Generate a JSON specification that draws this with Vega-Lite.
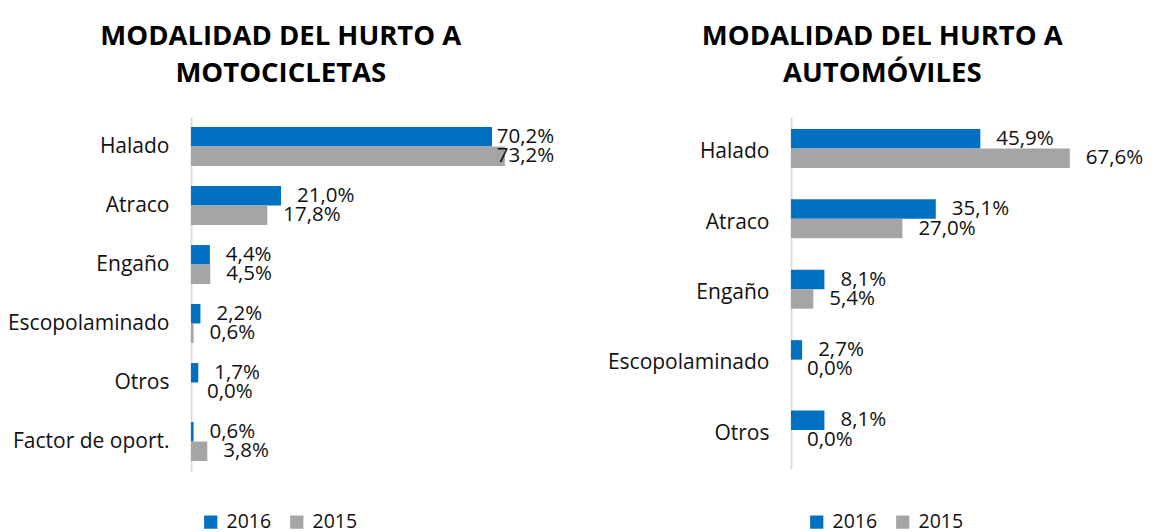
{
  "$schema": "https://vega.github.io/schema/vega-lite/v6.json",
  "padding": {"left": 5, "top": 22, "right": 0, "bottom": 30},
  "background": "white",
  "config": {
    "view": {"stroke": null},
    "font": "Open Sans",
    "locale": {"number": {"decimal": ",", "thousands": ".", "grouping": [3], "currency": ["", ""]}},
    "concat": {"spacing": 257},
    "title": {"font": "Open Sans", "fontSize": 27.5, "fontWeight": "bold", "color": "#000000", "lineHeight": 37, "anchor": "middle", "frame": "group", "offset": 30},
    "legend": {"padding": 0}
  },
  "bounds": "flush",
  "resolve": {"scale": {"color": "independent"}},
  "hconcat": [
    {
      "title": {"text": ["MODALIDAD DEL HURTO A", "MOTOCICLETAS"], "dx": -81.7},
      "width": 343,
      "height": 354,
      "data": {"values": [
        {"cat": "Halado", "year": "2016", "pct": 0.702},
        {"cat": "Halado", "year": "2015", "pct": 0.732},
        {"cat": "Atraco", "year": "2016", "pct": 0.210},
        {"cat": "Atraco", "year": "2015", "pct": 0.178},
        {"cat": "Engaño", "year": "2016", "pct": 0.044},
        {"cat": "Engaño", "year": "2015", "pct": 0.045},
        {"cat": "Escopolaminado", "year": "2016", "pct": 0.022},
        {"cat": "Escopolaminado", "year": "2015", "pct": 0.006},
        {"cat": "Otros", "year": "2016", "pct": 0.017},
        {"cat": "Otros", "year": "2015", "pct": 0.000},
        {"cat": "Factor de oport.", "year": "2016", "pct": 0.006},
        {"cat": "Factor de oport.", "year": "2015", "pct": 0.038}
      ]},
      "resolve": {"scale": {"x": "independent"}},
      "layer": [
        {
          "mark": {"type": "bar"},
          "encoding": {
            "y": {"field": "cat", "type": "nominal", "sort": ["Halado", "Atraco", "Engaño", "Escopolaminado", "Otros", "Factor de oport."],
              "scale": {"paddingInner": 0.34, "paddingOuter": 0.17},
              "axis": {"title": null, "ticks": false, "labelPadding": 22, "labelFontSize": 21, "labelColor": "#111111", "labelFont": "Open Sans", "domainColor": "#D9DDE4", "domainWidth": 2, "minExtent": 185.7, "maxExtent": 185.7, "labelLimit": 300}},
            "yOffset": {"field": "year", "type": "nominal", "sort": ["2016", "2015"], "scale": {"paddingInner": 0, "paddingOuter": 0}},
            "x": {"field": "pct", "type": "quantitative", "scale": {"domain": [0, 0.8]}, "axis": null},
            "color": {"field": "year", "type": "nominal", "sort": ["2016", "2015"],
              "scale": {"domain": ["2016", "2015"], "range": ["#0070C0", "#A5A5A5"]},
              "legend": {"title": null, "orient": "none", "direction": "horizontal", "legendX": 10, "legendY": 395, "symbolType": "square", "symbolSize": 175, "symbolStrokeWidth": 0, "symbolOpacity": 1, "labelFontSize": 19.5, "labelFont": "Open Sans", "labelColor": "#111111", "labelOffset": 6, "columnPadding": 15}}
          }
        },
        {
          "mark": {"type": "text", "align": "left", "baseline": "middle", "dx": 16, "fontSize": 20.5, "font": "Open Sans", "color": "#111111"},
          "encoding": {
            "y": {"field": "cat", "type": "nominal", "sort": ["Halado", "Atraco", "Engaño", "Escopolaminado", "Otros", "Factor de oport."]},
            "yOffset": {"field": "year", "type": "nominal", "sort": ["2016", "2015"]},
            "x": {"field": "pct", "type": "quantitative", "scale": {"domain": [0, 0.676], "range": [0, 289.8], "clamp": true}, "axis": null},
            "text": {"field": "pct", "type": "quantitative", "format": ".1%"}
          }
        }
      ]
    },
    {
      "title": {"text": ["MODALIDAD DEL HURTO A", "AUTOMÓVILES"], "dx": -73.7},
      "width": 330,
      "height": 352,
      "data": {"values": [
        {"cat": "Halado", "year": "2016", "pct": 0.459},
        {"cat": "Halado", "year": "2015", "pct": 0.676},
        {"cat": "Atraco", "year": "2016", "pct": 0.351},
        {"cat": "Atraco", "year": "2015", "pct": 0.270},
        {"cat": "Engaño", "year": "2016", "pct": 0.081},
        {"cat": "Engaño", "year": "2015", "pct": 0.054},
        {"cat": "Escopolaminado", "year": "2016", "pct": 0.027},
        {"cat": "Escopolaminado", "year": "2015", "pct": 0.000},
        {"cat": "Otros", "year": "2016", "pct": 0.081},
        {"cat": "Otros", "year": "2015", "pct": 0.000}
      ]},
      "layer": [
        {
          "mark": {"type": "bar"},
          "encoding": {
            "y": {"field": "cat", "type": "nominal", "sort": ["Halado", "Atraco", "Engaño", "Escopolaminado", "Otros"],
              "scale": {"paddingInner": 0.34, "paddingOuter": 0.17},
              "axis": {"title": null, "ticks": false, "labelPadding": 22, "labelFontSize": 21, "labelColor": "#111111", "labelFont": "Open Sans", "domainColor": "#D9DDE4", "domainWidth": 2, "labelLimit": 300}},
            "yOffset": {"field": "year", "type": "nominal", "sort": ["2016", "2015"], "scale": {"paddingInner": 0, "paddingOuter": 0}},
            "x": {"field": "pct", "type": "quantitative", "scale": {"domain": [0, 0.75]}, "axis": null},
            "color": {"field": "year", "type": "nominal", "sort": ["2016", "2015"],
              "scale": {"domain": ["2016", "2015"], "range": ["#0070C0", "#A5A5A5"]},
              "legend": {"title": null, "orient": "none", "direction": "horizontal", "legendX": 16, "legendY": 395, "symbolType": "square", "symbolSize": 175, "symbolStrokeWidth": 0, "symbolOpacity": 1, "labelFontSize": 19.5, "labelFont": "Open Sans", "labelColor": "#111111", "labelOffset": 6, "columnPadding": 15}}
          }
        },
        {
          "mark": {"type": "text", "align": "left", "baseline": "middle", "dx": 16, "fontSize": 20.5, "font": "Open Sans", "color": "#111111"},
          "encoding": {
            "y": {"field": "cat", "type": "nominal", "sort": ["Halado", "Atraco", "Engaño", "Escopolaminado", "Otros"]},
            "yOffset": {"field": "year", "type": "nominal", "sort": ["2016", "2015"]},
            "x": {"field": "pct", "type": "quantitative"},
            "text": {"field": "pct", "type": "quantitative", "format": ".1%"}
          }
        }
      ]
    }
  ]
}
